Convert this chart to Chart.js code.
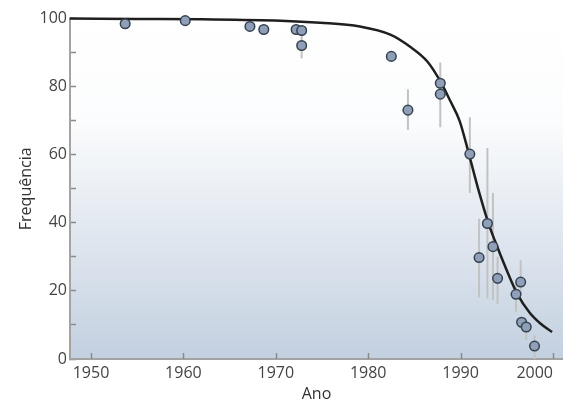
<!DOCTYPE html>
<html>
<head>
<meta charset="utf-8">
<script src="https://cdn.jsdelivr.net/npm/chart.js@4.4.1/dist/chart.umd.min.js"></script>
<style>
  html, body { margin: 0; padding: 0; background: #ffffff; }
  #wrap { width: 563px; height: 402px; }
</style>
</head>
<body>
<div id="wrap"><canvas id="c" width="563" height="402"></canvas></div>
<script>
// Observed frequencies per year, with their uncertainty ranges (null = no bar)
const years   = [1953.7, 1960.2, 1967.2, 1968.7, 1972.2, 1972.8, 1972.8, 1982.5, 1984.3, 1987.8, 1987.8, 1991.0, 1992.0, 1992.9, 1993.5, 1994.0, 1996.0, 1996.5, 1996.6, 1997.1, 1998.0];
const freq    = [98.5, 99.4, 97.7, 96.8, 96.8, 96.5, 92.1, 88.9, 73.1, 81.0, 77.8, 60.2, 29.8, 39.8, 33.0, 23.7, 19.0, 22.6, 10.8, 9.4, 3.8];
const errLow  = [null, null, null, null, null, null, 88.3, null, 67.3, 68.1, null, 48.8, 18.1, 17.8, 17.3, 16.2, 13.9, 19.0, null, 5.6, 0.0];
const errHigh = [null, null, null, null, null, null, 96.0, null, 79.2, 87.1, null, 71.0, 41.2, 62.0, 48.8, 30.0, 22.2, 29.0, null, 11.0, 7.0];

// Fitted decline curve
const curveYears = [1947.7, 1955, 1962, 1970.5, 1974.8, 1979.1, 1982.4, 1984.5, 1986.4, 1987.8, 1988.9, 1989.9, 1990.9, 1991.9, 1993.0, 1993.7, 1995.0, 1996.1, 1997.5, 1998.6, 1999.9];
const curveFreq  = [100, 99.9, 99.8, 99.4, 98.8, 97.7, 95.3, 91.8, 87.4, 81.6, 75.7, 69.9, 60.2, 50.0, 40.0, 34.8, 26.0, 19.3, 13.5, 10.5, 7.9];

// Axis ticks
const xTicks = [1950, 1960, 1970, 1980, 1990, 2000];
const yTicks = [0, 10, 20, 30, 40, 50, 60, 70, 80, 90, 100];
const yLabelled = [0, 20, 40, 60, 80, 100];

const tickFont = { family: "'Open Sans', 'DejaVu Sans', sans-serif", size: 16 };
const titleFont = { family: "'Open Sans', 'DejaVu Sans', sans-serif", size: 16 };

// Soft white-to-blue backdrop behind the plot
const backdrop = {
  id: 'backdrop',
  beforeDraw(chart) {
    const { ctx, chartArea: a } = chart;
    const g = ctx.createLinearGradient(0, a.top, 0, a.bottom);
    g.addColorStop(0, '#ffffff');
    g.addColorStop(0.3, '#fbfcfd');
    g.addColorStop(1, '#c3d0e0');
    ctx.save();
    ctx.fillStyle = g;
    ctx.fillRect(a.left, a.top, a.right - a.left, a.bottom - a.top);
    ctx.restore();
  }
};

// Vertical uncertainty bars, placed through the chart scales
const errorBars = {
  id: 'errorBars',
  beforeDatasetsDraw(chart) {
    const { ctx, scales: { x, y } } = chart;
    ctx.save();
    ctx.strokeStyle = '#c2c2c2';
    ctx.lineWidth = 2;
    years.forEach((yr, i) => {
      if (errLow[i] === null || errHigh[i] === null) return;
      const px = x.getPixelForValue(yr);
      ctx.beginPath();
      ctx.moveTo(px, y.getPixelForValue(errLow[i]));
      ctx.lineTo(px, y.getPixelForValue(errHigh[i]));
      ctx.stroke();
    });
    ctx.restore();
  }
};

// Inward-pointing tick marks on the year axis
const yearTicks = {
  id: 'yearTicks',
  afterDraw(chart) {
    const { ctx, chartArea: a, scales: { x } } = chart;
    ctx.save();
    ctx.strokeStyle = '#8a8a8a';
    ctx.lineWidth = 1.5;
    xTicks.forEach(v => {
      const px = Math.round(x.getPixelForValue(v)) + 0.5;
      ctx.beginPath();
      ctx.moveTo(px, a.bottom);
      ctx.lineTo(px, a.bottom - 6);
      ctx.stroke();
    });
    ctx.restore();
  }
};

new Chart(document.getElementById('c'), {
  type: 'scatter',
  data: {
    datasets: [
      {
        type: 'scatter',
        data: years.map((yr, i) => ({ x: yr, y: freq[i] })),
        backgroundColor: '#8e9fb7',
        borderColor: '#34414f',
        borderWidth: 1.5,
        pointRadius: 4.8,
        clip: false
      },
      {
        type: 'line',
        data: curveYears.map((yr, i) => ({ x: yr, y: curveFreq[i] })),
        borderColor: '#1f1f1f',
        borderWidth: 2.5,
        pointRadius: 0,
        tension: 0.4,
        cubicInterpolationMode: 'monotone',
        fill: false,
        clip: false
      }
    ]
  },
  options: {
    responsive: false,
    animation: false,
    layout: { autoPadding: false, padding: { top: 17, right: 0, bottom: 0, left: 0 } },
    plugins: { legend: { display: false }, tooltip: { enabled: false } },
    scales: {
      x: {
        type: 'linear',
        min: 1947.73,
        max: 2001.08,
        afterBuildTicks(s) { s.ticks = [{ value: s.min }].concat(xTicks.map(v => ({ value: v }))); },
        afterFit(s) { s.height = 43; },
        ticks: {
          align: 'inner',
          autoSkip: false,
          maxRotation: 0,
          padding: 0,
          color: '#444444',
          font: tickFont,
          callback: v => (xTicks.includes(v) ? String(v) : '')
        },
        grid: { drawOnChartArea: false, tickLength: 5, tickColor: 'rgba(0,0,0,0)' },
        border: { color: '#a3a3a3', width: 2 },
        title: { display: true, text: 'Ano', color: '#333333', font: titleFont, padding: { top: 0, bottom: -2 } }
      },
      y: {
        min: 0,
        max: 100,
        afterBuildTicks(s) { s.ticks = yTicks.map(v => ({ value: v })); },
        afterFit(s) { s.width = 70; },
        ticks: {
          autoSkip: false,
          padding: 9,
          color: '#444444',
          font: tickFont,
          callback: v => (yLabelled.includes(v) ? String(v) : '')
        },
        grid: { drawOnChartArea: false, tickLength: -6, tickColor: '#8a8a8a', tickWidth: 1.5 },
        border: { color: '#a3a3a3', width: 2 },
        title: { display: true, text: 'Frequência', color: '#333333', font: titleFont, padding: { top: 17, bottom: 0 } }
      }
    }
  },
  plugins: [backdrop, errorBars, yearTicks]
});
</script>
</body>
</html>
